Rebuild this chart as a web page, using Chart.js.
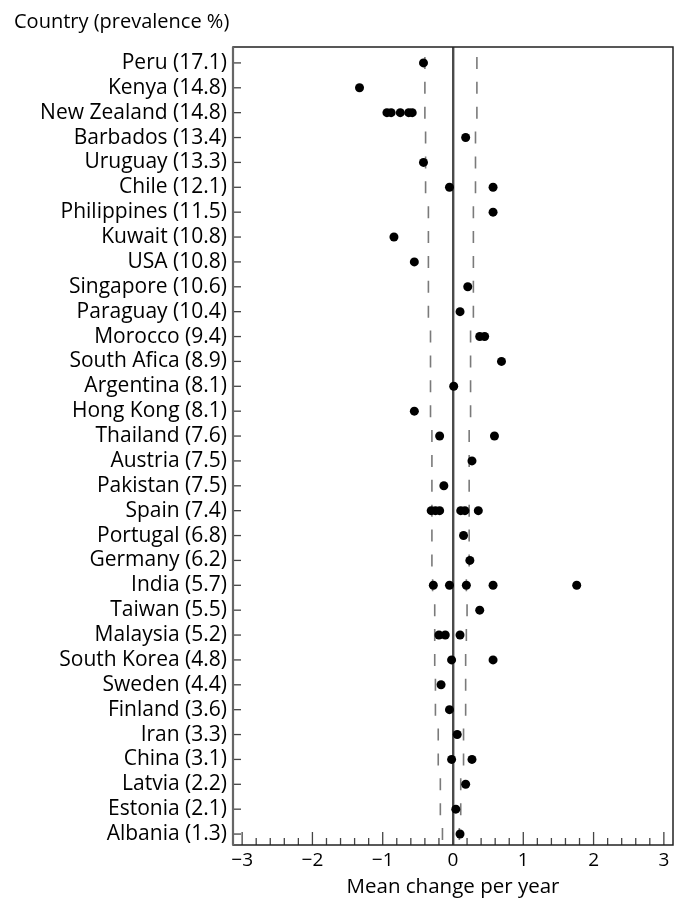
<!DOCTYPE html>
<html>
<head>
<meta charset="utf-8">
<script src="https://cdn.jsdelivr.net/npm/chart.js@4/dist/chart.umd.min.js"></script>
<style>
  html, body { margin: 0; padding: 0; background: #fff; }
  #wrap { width: 682px; height: 901px; }
</style>
</head>
<body>
<div id="wrap"><canvas id="c" width="682" height="901"></canvas></div>
<script>
// ---- data ----
const countries = ['Peru (17.1)', 'Kenya (14.8)', 'New Zealand (14.8)', 'Barbados (13.4)', 'Uruguay (13.3)',
  'Chile (12.1)', 'Philippines (11.5)', 'Kuwait (10.8)', 'USA (10.8)', 'Singapore (10.6)', 'Paraguay (10.4)',
  'Morocco (9.4)', 'South Afica (8.9)', 'Argentina (8.1)', 'Hong Kong (8.1)', 'Thailand (7.6)', 'Austria (7.5)',
  'Pakistan (7.5)', 'Spain (7.4)', 'Portugal (6.8)', 'Germany (6.2)', 'India (5.7)', 'Taiwan (5.5)',
  'Malaysia (5.2)', 'South Korea (4.8)', 'Sweden (4.4)', 'Finland (3.6)', 'Iran (3.3)', 'China (3.1)',
  'Latvia (2.2)', 'Estonia (2.1)', 'Albania (1.3)'];

const meanChanges = [
  [-0.42], [-1.33], [-0.94, -0.88, -0.75, -0.63, -0.58], [0.18], [-0.42],
  [-0.05, 0.57], [0.57], [-0.84], [-0.55], [0.21], [0.10],
  [0.38, 0.45], [0.69], [0.01], [-0.55], [-0.19, 0.59], [0.27],
  [-0.13], [-0.31, -0.25, -0.19, 0.11, 0.17, 0.36], [0.15], [0.24], [-0.28, -0.05, 0.19, 0.57, 1.76], [0.38],
  [-0.20, -0.11, 0.10], [-0.02, 0.57], [-0.17], [-0.05], [0.06], [-0.02, 0.27],
  [0.18], [0.04], [0.10]];

const lowerLimit = [-0.40, -0.40, -0.40, -0.39, -0.39, -0.39, -0.35, -0.35, -0.35, -0.35, -0.35,
  -0.32, -0.32, -0.32, -0.32, -0.30, -0.30, -0.30, -0.30, -0.30, -0.30, -0.29, -0.26,
  -0.26, -0.26, -0.25, -0.25, -0.21, -0.21, -0.18, -0.18, -0.15];
const upperLimit = [0.34, 0.34, 0.34, 0.32, 0.32, 0.32, 0.29, 0.29, 0.29, 0.29, 0.29,
  0.25, 0.25, 0.25, 0.25, 0.23, 0.23, 0.23, 0.23, 0.23, 0.23, 0.19, 0.20,
  0.19, 0.18, 0.18, 0.18, 0.15, 0.15, 0.11, 0.11, 0.09];

const xMajorTicks = [-3, -2, -1, 0, 1, 2, 3];
const xTickLabels = ['\u22123', '\u22122', '\u22121', '0', '1', '2', '3'];
const xMinorStep = 0.2;

// ---- build library datasets ----
const pointData = [];
meanChanges.forEach((vals, i) => vals.forEach(v => pointData.push({ x: v, y: i })));

const DASH_HALF = 0.24;
function dashSegments(limits) {
  const out = [];
  limits.forEach((v, i) => {
    out.push({ x: v, y: i - DASH_HALF }, { x: v, y: i + DASH_HALF }, { x: null, y: null });
  });
  return out;
}

const FONT = "'Open Sans', 'DejaVu Sans', sans-serif";
const TXT = '#000';

const framePlugin = {
  id: 'frame',
  afterDatasetsDraw(chart) {
    const { ctx, chartArea: a, scales } = chart;
    const xs = scales.x, ys = scales.y;
    ctx.save();
    // inward ticks, bottom axis
    ctx.strokeStyle = '#444';
    ctx.lineWidth = 1.3;
    const n = Math.round((xMajorTicks[xMajorTicks.length - 1] - xMajorTicks[0]) / xMinorStep);
    for (let k = 0; k <= n; k++) {
      const v = xMajorTicks[0] + k * xMinorStep;
      const major = Math.abs(v - Math.round(v)) < 1e-6;
      const px = xs.getPixelForValue(v);
      ctx.beginPath();
      ctx.moveTo(px, a.bottom);
      ctx.lineTo(px, a.bottom - (major ? 13 : 7));
      ctx.stroke();
    }
    // inward ticks, left axis
    countries.forEach((_, i) => {
      const py = ys.getPixelForValue(i);
      ctx.beginPath();
      ctx.moveTo(a.left, py);
      ctx.lineTo(a.left + 8, py);
      ctx.stroke();
    });
    // frame
    ctx.strokeStyle = '#222';
    ctx.lineWidth = 1.5;
    ctx.strokeRect(a.left, a.top, a.right - a.left, a.bottom - a.top);
    ctx.strokeStyle = '#666';
    ctx.lineWidth = 2.2;
    ctx.beginPath();
    ctx.moveTo(a.left, a.top);
    ctx.lineTo(a.left, a.bottom);
    ctx.stroke();
    ctx.restore();
  }
};

new Chart(document.getElementById('c'), {
  type: 'scatter',
  data: {
    datasets: [
      {
        label: 'Lower limit',
        data: dashSegments(lowerLimit),
        showLine: true,
        spanGaps: false,
        borderColor: '#7a7a7a',
        borderWidth: 1.6,
        pointRadius: 0,
        order: 2
      },
      {
        label: 'Upper limit',
        data: dashSegments(upperLimit),
        showLine: true,
        spanGaps: false,
        borderColor: '#7a7a7a',
        borderWidth: 1.6,
        pointRadius: 0,
        order: 2
      },
      {
        label: 'Mean change per year',
        data: pointData,
        pointRadius: 4.5,
        pointBackgroundColor: '#000',
        pointBorderColor: '#000',
        pointBorderWidth: 0,
        order: 1
      }
    ]
  },
  options: {
    responsive: false,
    animation: false,
    devicePixelRatio: 1,
    layout: { padding: { left: 14, right: 9, top: 0, bottom: 0 } },
    plugins: {
      legend: { display: false },
      tooltip: { enabled: false },
      title: {
        display: true,
        text: 'Country (prevalence %)',
        align: 'start',
        color: TXT,
        font: { family: FONT, size: 20, weight: 'normal', lineHeight: 1.2 },
        padding: { top: 10, bottom: 13 }
      }
    },
    scales: {
      x: {
        type: 'linear',
        min: -3.13,
        max: 3.13,
        afterBuildTicks(axis) { axis.ticks = xMajorTicks.map(v => ({ value: v })); },
        afterFit(axis) { axis.height = 56; },
        ticks: {
          color: TXT,
          font: { family: FONT, size: 19 },
          padding: 4,
          maxRotation: 0,
          callback(value) {
            const idx = xMajorTicks.indexOf(value);
            return idx >= 0 ? xTickLabels[idx] : '';
          }
        },
        grid: {
          drawTicks: false,
          color: ctx => (ctx.tick && ctx.tick.value === 0 ? '#4a4a4a' : 'rgba(0,0,0,0)'),
          lineWidth: ctx => (ctx.tick && ctx.tick.value === 0 ? 2.4 : 0)
        },
        border: { display: false },
        title: {
          display: true,
          text: 'Mean change per year',
          color: TXT,
          font: { family: FONT, size: 20.5, lineHeight: 1.2 },
          padding: { top: 0, bottom: 2 }
        }
      },
      y: {
        type: 'linear',
        reverse: true,
        min: -0.64,
        max: 31.44,
        afterBuildTicks(axis) { axis.ticks = countries.map((_, i) => ({ value: i })); },
        afterFit(axis) { axis.width = 233 - 14; },
        ticks: {
          color: TXT,
          font: { family: FONT, size: 21 },
          padding: -2,
          autoSkip: false,
          callback(value) { return countries[value] ?? ''; }
        },
        grid: { display: false },
        border: { display: false }
      }
    }
  },
  plugins: [framePlugin]
});
</script>
</body>
</html>
